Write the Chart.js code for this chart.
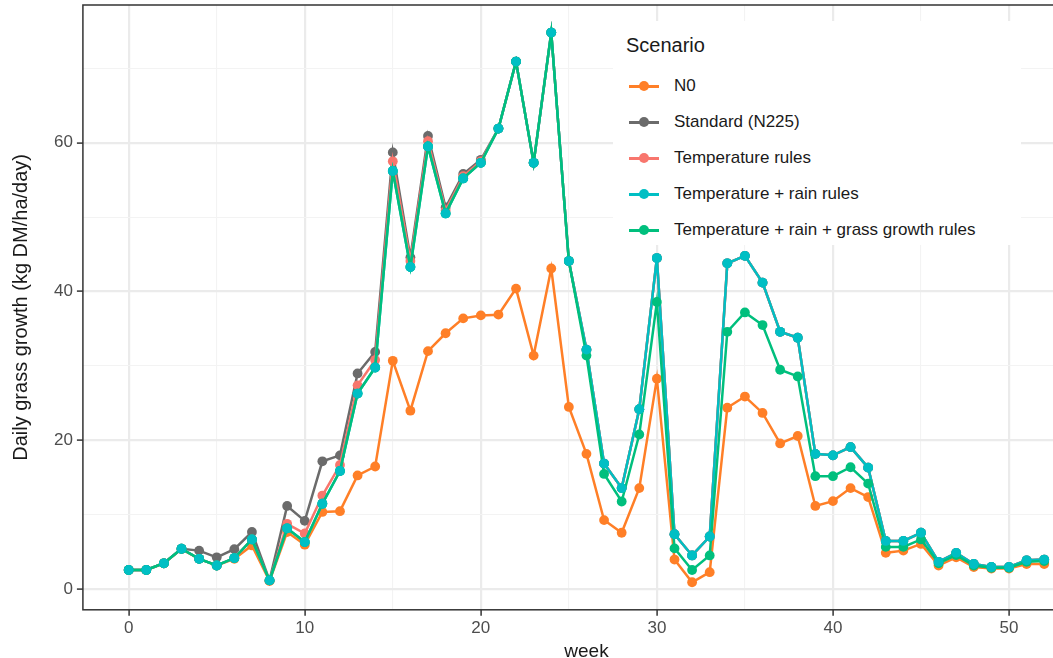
<!DOCTYPE html>
<html lang="en">
<head>
  <meta charset="UTF-8">
  <script src="https://cdn.jsdelivr.net/npm/chart.js"></script>
  <title>Daily grass growth</title>
  <style>
    body { margin: 0; overflow: hidden; background: #fff; font-family: "Liberation Sans", Arial, sans-serif; }
    .wrap { position: relative; width: 1100px; height: 658px; }
    .legend { position: absolute; left: 613px; top: 21px; width: 408px; height: 224px; background: #fff; }
    .legend h3 { margin: 0; position: absolute; left: 13px; top: 13px; font-size: 20px; font-weight: normal; color: #1a1a1a; }
    .item { position: absolute; left: 16px; height: 24px; display: flex; align-items: center; font-size: 17px; color: #1a1a1a; }
    .item .key { position: relative; width: 30px; height: 3px; margin-right: 15px; }
    .item .key i { position: absolute; left: 10px; top: -3.5px; width: 10px; height: 10px; border-radius: 50%; }
  </style>
</head>
<body>
<div class="wrap">
  <canvas id="myChart" width="1100" height="658"></canvas>
  <div class="legend" id="legend"><h3>Scenario</h3></div>
</div>

<script>
// weeks 0..52
var weeks = [0,1,2,3,4,5,6,7,8,9,10,11,12,13,14,15,16,17,18,19,20,21,22,23,24,25,26,
  27,28,29,30,31,32,33,34,35,36,37,38,39,40,41,42,43,44,45,46,47,48,49,50,51,52]

var n0 = [2.6,2.6,3.5,5.4,4.1,3.2,4.1,5.9,1.1,7.7,6.0,10.4,10.5,15.3,16.5,30.7,24.0,32.0,34.4,36.4,
  36.8,36.9,40.4,31.4,43.1,24.5,18.2,9.3,7.6,13.6,28.3,4.0,0.95,2.3,24.4,25.9,23.7,19.6,20.6,11.2,
  11.85,13.6,12.4,4.9,5.2,6.1,3.2,4.3,3.0,2.8,2.8,3.4,3.4]

var standard = [2.6,2.6,3.5,5.45,5.2,4.3,5.4,7.7,1.2,11.2,9.2,17.2,18.0,29.0,31.9,58.7,44.6,60.9,51.3,55.8,
  57.7,61.9,70.9,57.3,74.8,44.1,32.2,16.9,13.6,24.2,44.5,7.4,4.55,7.1,43.8,44.8,41.2,34.6,33.8,18.2,
  18.0,19.1,16.35,6.5,6.5,7.6,3.7,4.9,3.4,3.0,3.0,3.9,4.0]

var tempRules = [2.6,2.6,3.5,5.45,4.1,3.2,4.2,6.7,1.2,8.8,7.5,12.6,16.7,27.4,30.8,57.5,44.1,60.2,50.9,55.5,
  57.5,61.9,70.9,57.3,74.8,44.1,32.2,16.9,13.6,24.2,44.5,7.4,4.55,7.1,43.8,44.8,41.2,34.6,33.8,18.2,
  18.0,19.1,16.35,6.5,6.5,7.6,3.7,4.9,3.4,3.0,3.0,3.9,4.0]

var tempRain = [2.6,2.6,3.5,5.45,4.1,3.2,4.2,6.7,1.2,8.2,6.35,11.5,15.9,26.3,29.8,56.2,43.3,59.5,50.5,55.2,
  57.3,61.9,70.9,57.3,74.8,44.1,32.2,16.9,13.6,24.2,44.5,7.4,4.55,7.1,43.8,44.8,41.2,34.6,33.8,18.2,
  18.0,19.1,16.35,6.5,6.5,7.6,3.7,4.9,3.4,3.0,3.0,3.9,4.0]

var tempRainGrass = [2.6,2.6,3.5,5.45,4.1,3.2,4.2,6.7,1.2,8.2,6.35,11.5,15.9,26.3,29.8,56.2,43.3,59.5,50.5,55.2,
  57.3,61.9,70.9,57.3,74.8,44.1,31.4,15.5,11.8,20.8,38.6,5.5,2.6,4.55,34.6,37.2,35.5,29.5,28.6,15.2,
  15.2,16.4,14.2,5.7,5.7,6.7,3.5,4.6,3.2,2.9,2.9,3.7,3.8]

var xTicks = [0,5,10,15,20,25,30,35,40,45,50]
var yTicks = [0,10,20,30,40,50,60,70]

var scenarios = [
  { label: 'N0', data: n0, color: '#FF7F27' },
  { label: 'Standard (N225)', data: standard, color: '#6B6B6B' },
  { label: 'Temperature rules', data: tempRules, color: '#F8766D' },
  { label: 'Temperature + rain rules', data: tempRain, color: '#00BFC4' },
  { label: 'Temperature + rain + grass growth rules', data: tempRainGrass, color: '#00BF7D' }
]
// draw order (lower = on top)
var drawOrder = [5, 4, 3, 2, 1]

function pts(values) {
  return weeks.map(function (w, i) { return { x: w, y: values[i] } })
}

var datasets = scenarios.map(function (s, i) {
  return {
    label: s.label,
    data: pts(s.data),
    borderColor: s.color,
    backgroundColor: s.color,
    borderWidth: 2.5,
    pointRadius: 4.9,
    pointBorderWidth: 0,
    order: drawOrder[i]
  }
})
// cyan points sit on top of the green line where the series overlap
datasets.push({
  label: 'Temperature + rain rules (points)',
  data: pts(tempRain),
  showLine: false,
  backgroundColor: '#00BFC4',
  borderColor: '#00BFC4',
  pointRadius: 4.9,
  pointBorderWidth: 0,
  order: 0
})

// html legend
var legend = document.getElementById('legend')
scenarios.forEach(function (s, i) {
  var d = document.createElement('div')
  d.className = 'item'
  d.style.top = (53 + i * 36) + 'px'
  d.innerHTML = '<span class="key" style="background:' + s.color + '"><i style="background:' + s.color + '"></i></span>' + s.label
  legend.appendChild(d)
})

var panelBorder = {
  id: 'panelBorder',
  afterDraw: function (chart) {
    var a = chart.chartArea, c = chart.ctx
    c.save()
    c.strokeStyle = '#333333'
    c.lineWidth = 1.5
    c.strokeRect(a.left, a.top, a.right - a.left, a.bottom - a.top)
    c.restore()
  }
}

function isMajor(v, step) { return Math.round(v) % step === 0 }

const ctx = document.getElementById('myChart')
new Chart(ctx, {
  type: 'line',
  data: { datasets: datasets },
  plugins: [panelBorder],
  options: {
    responsive: false,
    animation: false,
    layout: { padding: { left: 9, right: 10, top: 5, bottom: -5 } },
    plugins: { legend: { display: false }, tooltip: { enabled: false } },
    scales: {
      x: {
        type: 'linear',
        min: -2.6,
        max: 54.6,
        afterBuildTicks: function (s) { s.ticks = xTicks.map(function (v) { return { value: v } }) },
        ticks: {
          color: '#4D4D4D',
          font: { family: 'Liberation Sans, Arial', size: 17 },
          padding: 2,
          maxRotation: 0,
          callback: function (v) { return isMajor(v, 10) ? String(v) : '' }
        },
        grid: {
          color: function (c) { return isMajor(c.tick.value, 10) ? '#EBEBEB' : '#F3F3F3' },
          lineWidth: function (c) { return isMajor(c.tick.value, 10) ? 2.2 : 1.1 },
          tickColor: function (c) { return isMajor(c.tick.value, 10) ? '#333333' : 'rgba(0,0,0,0)' },
          tickWidth: 1.5,
          tickLength: 6
        },
        border: { display: false },
        title: { display: true, text: 'week', color: '#1a1a1a', font: { family: 'Liberation Sans, Arial', size: 19 }, padding: { top: 0, bottom: 0 } }
      },
      y: {
        min: -2.75,
        max: 78.5,
        afterBuildTicks: function (s) { s.ticks = yTicks.map(function (v) { return { value: v } }) },
        afterFit: function (s) { s.paddingTop = 0; s.paddingBottom = 0 },
        ticks: {
          color: '#4D4D4D',
          font: { family: 'Liberation Sans, Arial', size: 17 },
          padding: 4,
          callback: function (v) { return isMajor(v, 20) ? String(v) : '' }
        },
        grid: {
          color: function (c) { return isMajor(c.tick.value, 20) ? '#EBEBEB' : '#F3F3F3' },
          lineWidth: function (c) { return isMajor(c.tick.value, 20) ? 2.2 : 1.1 },
          tickColor: function (c) { return isMajor(c.tick.value, 20) ? '#333333' : 'rgba(0,0,0,0)' },
          tickWidth: 1.5,
          tickLength: 6
        },
        border: { display: false },
        title: { display: true, text: 'Daily grass growth (kg DM/ha/day)', color: '#1a1a1a', font: { family: 'Liberation Sans, Arial', size: 20 }, padding: { top: 0, bottom: 17 } }
      }
    }
  }
})
</script>
</body>
</html>
